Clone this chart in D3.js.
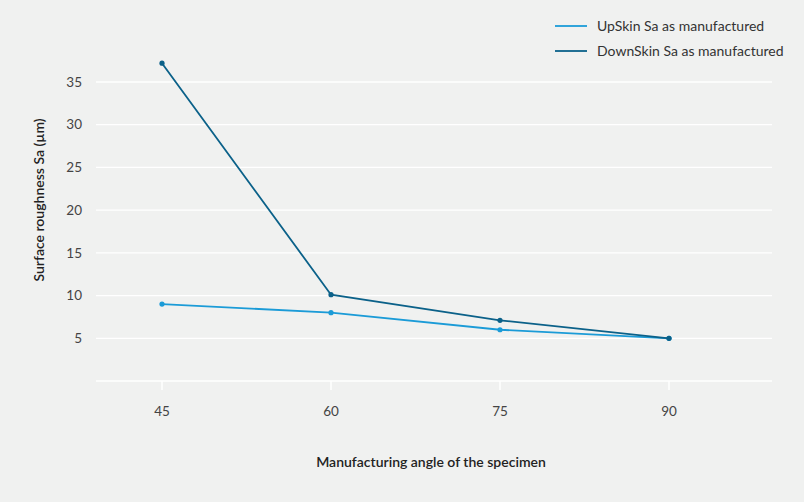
<!DOCTYPE html>
<html>
<head>
<meta charset="utf-8">
<script src="https://cdn.jsdelivr.net/npm/d3@7"></script>
<style>
  body { margin: 0; background: #f0f1f0; }
  svg { display: block; font-family: Lato, "Open Sans", sans-serif; }
</style>
</head>
<body>
<svg id="chart" width="804" height="502"></svg>
<script>
var angles = [45, 60, 75, 90];
var upSkin = [9, 8, 6, 5];
var downSkin = [37.2, 10.1, 7.1, 5];
var yTicks = [5, 10, 15, 20, 25, 30, 35];
var seriesNames = ["UpSkin Sa as manufactured", "DownSkin Sa as manufactured"];
var seriesColors = ["#1b9bd7", "#0b6189"];

var svg = d3.select("#chart");
svg.append("rect").attr("width", 804).attr("height", 502).attr("fill", "#f0f1f0");

var x = d3.scalePoint().domain(angles).range([162, 669]);
var y = d3.scaleLinear().domain([0, 35]).range([381, 82]);

// grid
svg.append("g").selectAll("line").data([0].concat(yTicks)).enter().append("line")
    .attr("x1", 96).attr("x2", 772)
    .attr("y1", function (d) { return y(d); }).attr("y2", function (d) { return y(d); })
    .attr("stroke", "#ffffff").attr("stroke-width", 1.3);

// y tick labels
svg.append("g").selectAll("text").data(yTicks).enter().append("text")
    .attr("x", 82).attr("y", function (d) { return y(d); })
    .attr("dy", "0.35em").attr("text-anchor", "end")
    .attr("font-size", 13.5).attr("fill", "#444")
    .text(function (d) { return d; });

// x ticks + labels
var xt = svg.append("g").selectAll("g").data(angles).enter().append("g")
    .attr("transform", function (d) { return "translate(" + x(d) + ",0)"; });
xt.append("line").attr("y1", y(0)).attr("y2", y(0) + 9).attr("stroke", "#ffffff").attr("stroke-width", 1.5);
xt.append("text").attr("y", 416).attr("text-anchor", "middle")
    .attr("font-size", 13.5).attr("fill", "#444").text(function (d) { return d; });

// axis titles
svg.append("text").attr("x", 431).attr("y", 467).attr("text-anchor", "middle")
    .attr("font-size", 14).attr("font-weight", 600).attr("fill", "#222")
    .text("Manufacturing angle of the specimen");
svg.append("text").attr("transform", "translate(44,200) rotate(-90)").attr("text-anchor", "middle")
    .attr("font-size", 14).attr("font-weight", 600).attr("fill", "#222")
    .text("Surface roughness Sa (\u00b5m)");

// lines
var line = d3.line().x(function (d, i) { return x(angles[i]); }).y(function (d) { return y(d); });
[upSkin, downSkin].forEach(function (vals, k) {
    var g = svg.append("g");
    g.append("path").datum(vals).attr("d", line)
        .attr("fill", "none").attr("stroke", seriesColors[k]).attr("stroke-width", 1.8);
    g.selectAll("circle").data(vals).enter().append("circle")
        .attr("cx", function (d, i) { return x(angles[i]); })
        .attr("cy", function (d) { return y(d); })
        .attr("r", 2.6).attr("fill", seriesColors[k]);
});

// legend
var lg = svg.append("g").selectAll("g").data(seriesNames).enter().append("g")
    .attr("transform", function (d, i) { return "translate(555," + (26 + i * 25) + ")"; });
lg.append("line").attr("x1", 0).attr("x2", 32).attr("stroke", function (d, i) { return seriesColors[i]; }).attr("stroke-width", 1.8);
lg.append("text").attr("x", 42).attr("dy", "0.35em").attr("font-size", 14).attr("fill", "#333")
    .text(function (d) { return d; });
</script>
</body>
</html>
